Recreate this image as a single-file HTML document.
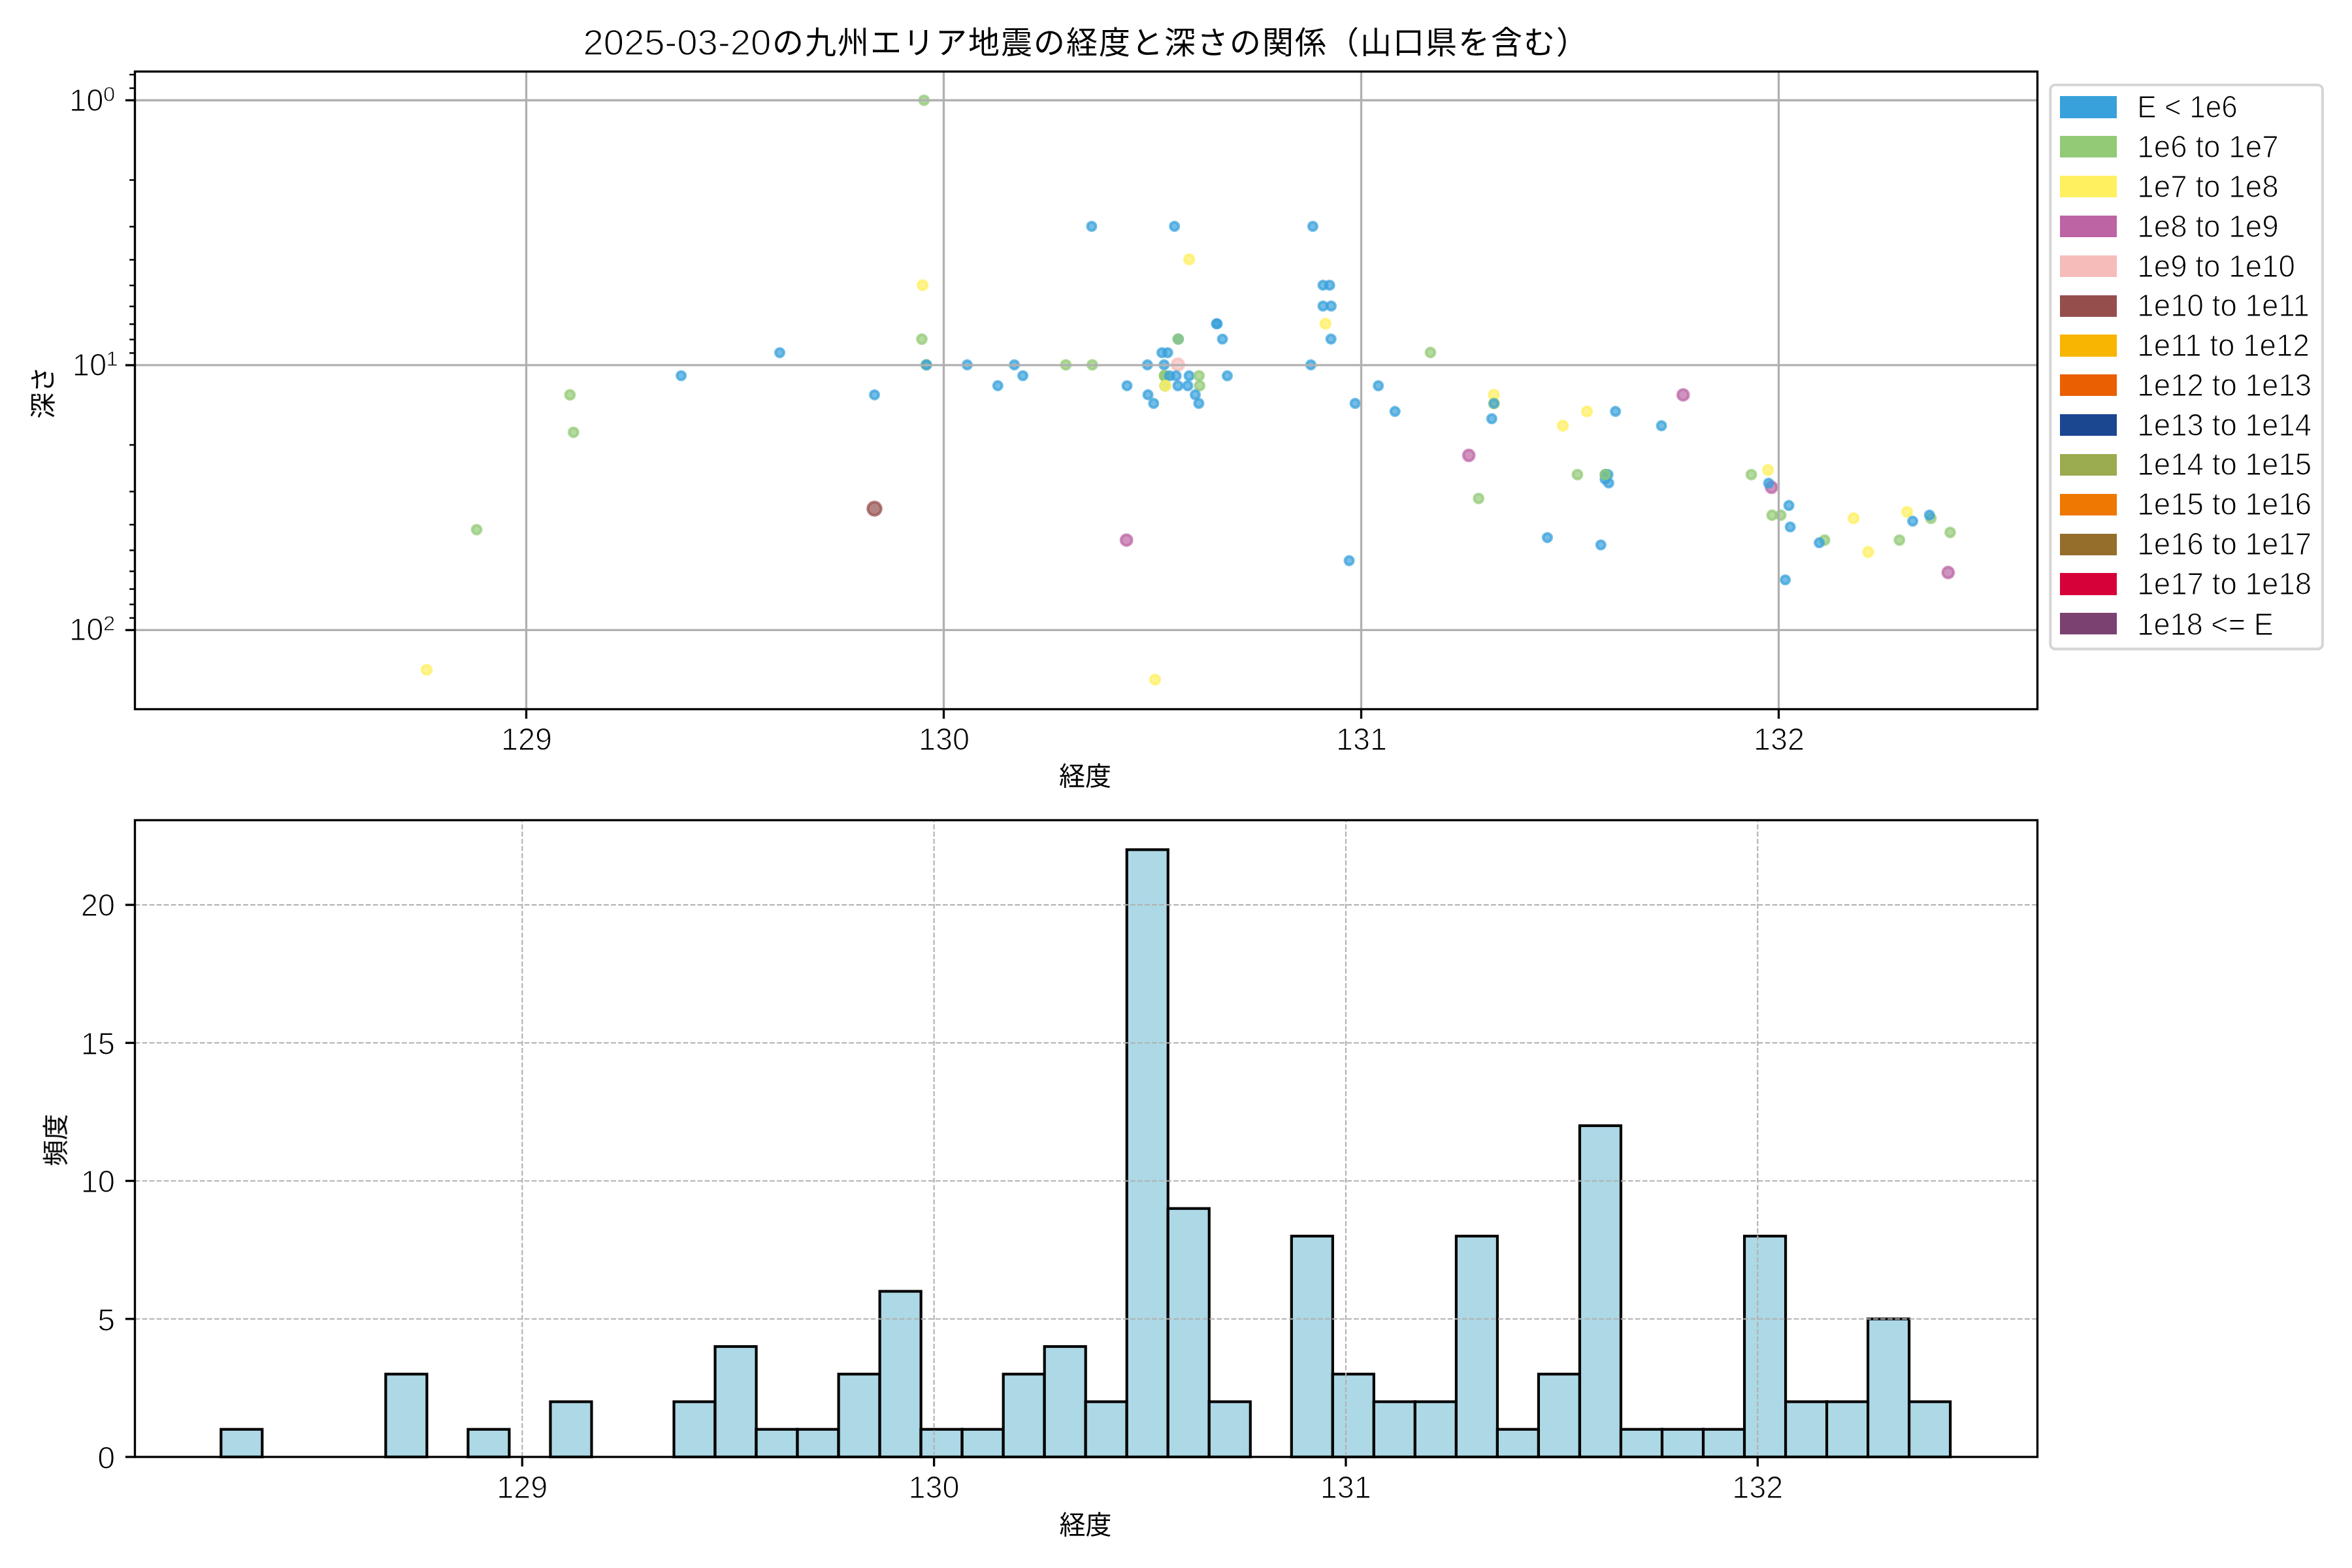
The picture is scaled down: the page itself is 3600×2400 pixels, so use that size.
<!DOCTYPE html>
<html lang="ja"><head><meta charset="utf-8"><title>2025-03-20の九州エリア地震の経度と深さの関係</title>
<style>html,body{margin:0;padding:0;background:#fff;}svg{display:block;}text{font-family:"Liberation Sans", "Noto Sans CJK JP", sans-serif;fill:#000;}</style></head><body>
<svg width="3600" height="2400" viewBox="0 0 3600 2400">
<rect x="0" y="0" width="3600" height="2400" fill="#ffffff"/>
<g id="ax1">
<g stroke-width="4.17" fill-opacity="0.7" stroke-opacity="0.7">
<circle cx="653.1" cy="1025.3" r="7.2" fill="#fff05f" stroke="#fff05f"/>
<circle cx="729.6" cy="810.7" r="6.9" fill="#93ca76" stroke="#93ca76"/>
<circle cx="872.4" cy="604.3" r="6.9" fill="#93ca76" stroke="#93ca76"/>
<circle cx="877.8" cy="661.7" r="6.9" fill="#93ca76" stroke="#93ca76"/>
<circle cx="1042.6" cy="575" r="6.5" fill="#38a1db" stroke="#38a1db"/>
<circle cx="1193.5" cy="539.8" r="6.5" fill="#38a1db" stroke="#38a1db"/>
<circle cx="1338.5" cy="604.3" r="6.5" fill="#38a1db" stroke="#38a1db"/>
<circle cx="1338.5" cy="778.6" r="10.2" fill="#954e4c" stroke="#954e4c"/>
<circle cx="1411" cy="519.1" r="6.9" fill="#93ca76" stroke="#93ca76"/>
<circle cx="1414.3" cy="153.4" r="6.9" fill="#93ca76" stroke="#93ca76"/>
<circle cx="1412.2" cy="436.5" r="7.2" fill="#fff05f" stroke="#fff05f"/>
<circle cx="1417.6" cy="558.4" r="6.9" fill="#93ca76" stroke="#93ca76"/>
<circle cx="1418.2" cy="558.4" r="6.5" fill="#38a1db" stroke="#38a1db"/>
<circle cx="1480.4" cy="558.4" r="6.5" fill="#38a1db" stroke="#38a1db"/>
<circle cx="1552.6" cy="558.4" r="6.5" fill="#38a1db" stroke="#38a1db"/>
<circle cx="1631.4" cy="558.4" r="6.9" fill="#93ca76" stroke="#93ca76"/>
<circle cx="1671.9" cy="558.4" r="6.9" fill="#93ca76" stroke="#93ca76"/>
<circle cx="1565.6" cy="575" r="6.5" fill="#38a1db" stroke="#38a1db"/>
<circle cx="1527.3" cy="590.3" r="6.5" fill="#38a1db" stroke="#38a1db"/>
<circle cx="1725" cy="590.3" r="6.5" fill="#38a1db" stroke="#38a1db"/>
<circle cx="1724.2" cy="826.7" r="8.4" fill="#bc64a4" stroke="#bc64a4"/>
<circle cx="1767.9" cy="1040.2" r="7.2" fill="#fff05f" stroke="#fff05f"/>
<circle cx="1670.9" cy="346.4" r="6.5" fill="#38a1db" stroke="#38a1db"/>
<circle cx="1797.7" cy="346.4" r="6.5" fill="#38a1db" stroke="#38a1db"/>
<circle cx="2009.4" cy="346.4" r="6.5" fill="#38a1db" stroke="#38a1db"/>
<circle cx="1820.2" cy="396.9" r="7.2" fill="#fff05f" stroke="#fff05f"/>
<circle cx="2025" cy="436.5" r="6.5" fill="#38a1db" stroke="#38a1db"/>
<circle cx="2035.2" cy="436.5" r="6.5" fill="#38a1db" stroke="#38a1db"/>
<circle cx="2025" cy="468.4" r="6.5" fill="#38a1db" stroke="#38a1db"/>
<circle cx="2037.5" cy="468.4" r="6.5" fill="#38a1db" stroke="#38a1db"/>
<circle cx="1861.9" cy="495.5" r="6.5" fill="#38a1db" stroke="#38a1db"/>
<circle cx="1863.1" cy="495.5" r="6.5" fill="#38a1db" stroke="#38a1db"/>
<circle cx="2028.8" cy="495.4" r="7.2" fill="#fff05f" stroke="#fff05f"/>
<circle cx="1803.6" cy="519" r="6.5" fill="#38a1db" stroke="#38a1db"/>
<circle cx="1803.2" cy="519" r="6.9" fill="#93ca76" stroke="#93ca76"/>
<circle cx="1871.1" cy="519" r="6.5" fill="#38a1db" stroke="#38a1db"/>
<circle cx="2037.2" cy="518.9" r="6.5" fill="#38a1db" stroke="#38a1db"/>
<circle cx="1778.5" cy="539.8" r="6.5" fill="#38a1db" stroke="#38a1db"/>
<circle cx="1787.2" cy="539.8" r="6.5" fill="#38a1db" stroke="#38a1db"/>
<circle cx="2189.5" cy="539.5" r="6.9" fill="#93ca76" stroke="#93ca76"/>
<circle cx="1756.3" cy="558.4" r="6.5" fill="#38a1db" stroke="#38a1db"/>
<circle cx="1781.8" cy="558.4" r="6.5" fill="#38a1db" stroke="#38a1db"/>
<circle cx="1803" cy="558" r="9" fill="#f5bcba" stroke="#f5bcba"/>
<circle cx="2006.4" cy="558.4" r="6.5" fill="#38a1db" stroke="#38a1db"/>
<circle cx="1782.7" cy="575.2" r="6.9" fill="#93ca76" stroke="#93ca76"/>
<circle cx="1782.7" cy="575.2" r="6.9" fill="#93ca76" stroke="#93ca76"/>
<circle cx="1782.7" cy="575.2" r="6.9" fill="#93ca76" stroke="#93ca76"/>
<circle cx="1790.2" cy="575.2" r="6.5" fill="#38a1db" stroke="#38a1db"/>
<circle cx="1800.2" cy="575.2" r="6.5" fill="#38a1db" stroke="#38a1db"/>
<circle cx="1820.1" cy="575.2" r="6.5" fill="#38a1db" stroke="#38a1db"/>
<circle cx="1835.2" cy="575.2" r="6.9" fill="#93ca76" stroke="#93ca76"/>
<circle cx="1878.5" cy="575.2" r="6.5" fill="#38a1db" stroke="#38a1db"/>
<circle cx="1783.2" cy="590.4" r="6.9" fill="#93ca76" stroke="#93ca76"/>
<circle cx="1783.9" cy="590.4" r="7.2" fill="#fff05f" stroke="#fff05f"/>
<circle cx="1803" cy="590.4" r="6.5" fill="#38a1db" stroke="#38a1db"/>
<circle cx="1818" cy="590.4" r="6.5" fill="#38a1db" stroke="#38a1db"/>
<circle cx="1836.1" cy="590.4" r="6.9" fill="#93ca76" stroke="#93ca76"/>
<circle cx="2109.7" cy="590.4" r="6.5" fill="#38a1db" stroke="#38a1db"/>
<circle cx="1757.1" cy="604.2" r="6.5" fill="#38a1db" stroke="#38a1db"/>
<circle cx="1829.5" cy="604.2" r="6.5" fill="#38a1db" stroke="#38a1db"/>
<circle cx="2286.5" cy="604.2" r="7.2" fill="#fff05f" stroke="#fff05f"/>
<circle cx="1765.8" cy="617.4" r="6.5" fill="#38a1db" stroke="#38a1db"/>
<circle cx="1834.9" cy="617.4" r="6.5" fill="#38a1db" stroke="#38a1db"/>
<circle cx="2074.2" cy="617.4" r="6.5" fill="#38a1db" stroke="#38a1db"/>
<circle cx="2286.7" cy="617.5" r="6.9" fill="#93ca76" stroke="#93ca76"/>
<circle cx="2286.7" cy="617.5" r="7.2" fill="#fff05f" stroke="#fff05f"/>
<circle cx="2286.7" cy="617.5" r="6.5" fill="#38a1db" stroke="#38a1db"/>
<circle cx="2135.2" cy="629.7" r="6.5" fill="#38a1db" stroke="#38a1db"/>
<circle cx="2429.1" cy="629.7" r="7.2" fill="#fff05f" stroke="#fff05f"/>
<circle cx="2472.7" cy="629.7" r="6.5" fill="#38a1db" stroke="#38a1db"/>
<circle cx="2283.3" cy="640.9" r="6.5" fill="#38a1db" stroke="#38a1db"/>
<circle cx="2392.1" cy="651.6" r="7.2" fill="#fff05f" stroke="#fff05f"/>
<circle cx="2543.1" cy="651.6" r="6.5" fill="#38a1db" stroke="#38a1db"/>
<circle cx="2576.3" cy="604.4" r="8.4" fill="#bc64a4" stroke="#bc64a4"/>
<circle cx="2248.2" cy="697" r="8.4" fill="#bc64a4" stroke="#bc64a4"/>
<circle cx="2263.2" cy="762.9" r="6.9" fill="#93ca76" stroke="#93ca76"/>
<circle cx="2065.1" cy="858.1" r="6.5" fill="#38a1db" stroke="#38a1db"/>
<circle cx="2414.4" cy="726.4" r="6.9" fill="#93ca76" stroke="#93ca76"/>
<circle cx="2457.6" cy="726.4" r="6.5" fill="#38a1db" stroke="#38a1db"/>
<circle cx="2457.6" cy="726.4" r="6.5" fill="#38a1db" stroke="#38a1db"/>
<circle cx="2461.2" cy="726.4" r="6.5" fill="#38a1db" stroke="#38a1db"/>
<circle cx="2456.9" cy="733.4" r="6.5" fill="#38a1db" stroke="#38a1db"/>
<circle cx="2462.3" cy="739.2" r="6.5" fill="#38a1db" stroke="#38a1db"/>
<circle cx="2457" cy="726.4" r="6.9" fill="#93ca76" stroke="#93ca76"/>
<circle cx="2680.6" cy="726.4" r="6.9" fill="#93ca76" stroke="#93ca76"/>
<circle cx="2706.1" cy="719.4" r="7.2" fill="#fff05f" stroke="#fff05f"/>
<circle cx="2711.5" cy="745.8" r="8.4" fill="#bc64a4" stroke="#bc64a4"/>
<circle cx="2707.1" cy="739.5" r="6.5" fill="#38a1db" stroke="#38a1db"/>
<circle cx="2738.1" cy="773.7" r="6.5" fill="#38a1db" stroke="#38a1db"/>
<circle cx="2712.3" cy="788.5" r="6.9" fill="#93ca76" stroke="#93ca76"/>
<circle cx="2725.6" cy="788.5" r="6.9" fill="#93ca76" stroke="#93ca76"/>
<circle cx="2740.2" cy="806.5" r="6.5" fill="#38a1db" stroke="#38a1db"/>
<circle cx="2837.1" cy="793.3" r="7.2" fill="#fff05f" stroke="#fff05f"/>
<circle cx="2792.7" cy="826.7" r="6.9" fill="#93ca76" stroke="#93ca76"/>
<circle cx="2784.6" cy="830.7" r="6.5" fill="#38a1db" stroke="#38a1db"/>
<circle cx="2859.5" cy="844.9" r="7.2" fill="#fff05f" stroke="#fff05f"/>
<circle cx="2907.3" cy="826.7" r="6.9" fill="#93ca76" stroke="#93ca76"/>
<circle cx="2919" cy="783.5" r="7.2" fill="#fff05f" stroke="#fff05f"/>
<circle cx="2927.6" cy="797.7" r="6.5" fill="#38a1db" stroke="#38a1db"/>
<circle cx="2955.5" cy="793.3" r="6.9" fill="#93ca76" stroke="#93ca76"/>
<circle cx="2953.2" cy="788.3" r="6.5" fill="#38a1db" stroke="#38a1db"/>
<circle cx="2985" cy="814.9" r="6.9" fill="#93ca76" stroke="#93ca76"/>
<circle cx="2981.9" cy="876.3" r="8.4" fill="#bc64a4" stroke="#bc64a4"/>
<circle cx="2732.6" cy="887.5" r="6.5" fill="#38a1db" stroke="#38a1db"/>
<circle cx="2368.4" cy="822.8" r="6.5" fill="#38a1db" stroke="#38a1db"/>
<circle cx="2450.3" cy="834" r="6.5" fill="#38a1db" stroke="#38a1db"/>
</g>
<g stroke="#b0b0b0" stroke-width="3.33" fill="none">
<line x1="805.5" y1="109.5" x2="805.5" y2="1085.5"/>
<line x1="1444.5" y1="109.5" x2="1444.5" y2="1085.5"/>
<line x1="2083.5" y1="109.5" x2="2083.5" y2="1085.5"/>
<line x1="2722.5" y1="109.5" x2="2722.5" y2="1085.5"/>
<line x1="206.5" y1="153.5" x2="3118.5" y2="153.5"/>
<line x1="206.5" y1="558.95" x2="3118.5" y2="558.95"/>
<line x1="206.5" y1="964.4" x2="3118.5" y2="964.4"/>
</g>
<g stroke="#000" stroke-width="3.33">
<line x1="805.5" y1="1085.5" x2="805.5" y2="1100.08"/>
<line x1="1444.5" y1="1085.5" x2="1444.5" y2="1100.08"/>
<line x1="2083.5" y1="1085.5" x2="2083.5" y2="1100.08"/>
<line x1="2722.5" y1="1085.5" x2="2722.5" y2="1100.08"/>
<line x1="191.92" y1="153.5" x2="206.5" y2="153.5"/>
<line x1="191.92" y1="558.95" x2="206.5" y2="558.95"/>
<line x1="191.92" y1="964.4" x2="206.5" y2="964.4"/>
</g>
<g stroke="#000" stroke-width="2.5">
<line x1="198.17" y1="114.21" x2="206.5" y2="114.21"/>
<line x1="198.17" y1="134.95" x2="206.5" y2="134.95"/>
<line x1="198.17" y1="275.55" x2="206.5" y2="275.55"/>
<line x1="198.17" y1="346.95" x2="206.5" y2="346.95"/>
<line x1="198.17" y1="397.61" x2="206.5" y2="397.61"/>
<line x1="198.17" y1="436.9" x2="206.5" y2="436.9"/>
<line x1="198.17" y1="469" x2="206.5" y2="469"/>
<line x1="198.17" y1="496.15" x2="206.5" y2="496.15"/>
<line x1="198.17" y1="519.66" x2="206.5" y2="519.66"/>
<line x1="198.17" y1="540.4" x2="206.5" y2="540.4"/>
<line x1="198.17" y1="681" x2="206.5" y2="681"/>
<line x1="198.17" y1="752.4" x2="206.5" y2="752.4"/>
<line x1="198.17" y1="803.06" x2="206.5" y2="803.06"/>
<line x1="198.17" y1="842.35" x2="206.5" y2="842.35"/>
<line x1="198.17" y1="874.45" x2="206.5" y2="874.45"/>
<line x1="198.17" y1="901.6" x2="206.5" y2="901.6"/>
<line x1="198.17" y1="925.11" x2="206.5" y2="925.11"/>
<line x1="198.17" y1="945.85" x2="206.5" y2="945.85"/>
</g>
<rect x="206.5" y="109.5" width="2912" height="976" fill="none" stroke="#000" stroke-width="3.33"/>
</g>
<g id="ax2">
<g fill="#add8e6" stroke="#000" stroke-width="4.17" stroke-linejoin="miter">
<rect x="338.3" y="2187.75" width="63.02" height="42.25"/>
<rect x="590.38" y="2103.25" width="63.02" height="126.75"/>
<rect x="716.42" y="2187.75" width="63.02" height="42.25"/>
<rect x="842.46" y="2145.5" width="63.02" height="84.5"/>
<rect x="1031.52" y="2145.5" width="63.02" height="84.5"/>
<rect x="1094.54" y="2061" width="63.02" height="169"/>
<rect x="1157.56" y="2187.75" width="63.02" height="42.25"/>
<rect x="1220.58" y="2187.75" width="63.02" height="42.25"/>
<rect x="1283.6" y="2103.25" width="63.02" height="126.75"/>
<rect x="1346.62" y="1976.5" width="63.02" height="253.5"/>
<rect x="1409.64" y="2187.75" width="63.02" height="42.25"/>
<rect x="1472.66" y="2187.75" width="63.02" height="42.25"/>
<rect x="1535.68" y="2103.25" width="63.02" height="126.75"/>
<rect x="1598.7" y="2061" width="63.02" height="169"/>
<rect x="1661.72" y="2145.5" width="63.02" height="84.5"/>
<rect x="1724.74" y="1300.5" width="63.02" height="929.5"/>
<rect x="1787.76" y="1849.75" width="63.02" height="380.25"/>
<rect x="1850.78" y="2145.5" width="63.02" height="84.5"/>
<rect x="1976.82" y="1892" width="63.02" height="338"/>
<rect x="2039.84" y="2103.25" width="63.02" height="126.75"/>
<rect x="2102.86" y="2145.5" width="63.02" height="84.5"/>
<rect x="2165.88" y="2145.5" width="63.02" height="84.5"/>
<rect x="2228.9" y="1892" width="63.02" height="338"/>
<rect x="2291.92" y="2187.75" width="63.02" height="42.25"/>
<rect x="2354.94" y="2103.25" width="63.02" height="126.75"/>
<rect x="2417.96" y="1723" width="63.02" height="507"/>
<rect x="2480.98" y="2187.75" width="63.02" height="42.25"/>
<rect x="2544" y="2187.75" width="63.02" height="42.25"/>
<rect x="2607.02" y="2187.75" width="63.02" height="42.25"/>
<rect x="2670.04" y="1892" width="63.02" height="338"/>
<rect x="2733.06" y="2145.5" width="63.02" height="84.5"/>
<rect x="2796.08" y="2145.5" width="63.02" height="84.5"/>
<rect x="2859.1" y="2018.75" width="63.02" height="211.25"/>
<rect x="2922.12" y="2145.5" width="63.02" height="84.5"/>
</g>
<g stroke="#b0b0b0" stroke-width="2.08" stroke-dasharray="7.71 3.33" fill="none">
<line x1="799.3" y1="2230" x2="799.3" y2="1255.4"/>
<line x1="1429.63" y1="2230" x2="1429.63" y2="1255.4"/>
<line x1="2059.96" y1="2230" x2="2059.96" y2="1255.4"/>
<line x1="2690.29" y1="2230" x2="2690.29" y2="1255.4"/>
<line x1="206.5" y1="2230" x2="3118.5" y2="2230"/>
<line x1="206.5" y1="2018.75" x2="3118.5" y2="2018.75"/>
<line x1="206.5" y1="1807.5" x2="3118.5" y2="1807.5"/>
<line x1="206.5" y1="1596.25" x2="3118.5" y2="1596.25"/>
<line x1="206.5" y1="1385" x2="3118.5" y2="1385"/>
</g>
<g stroke="#000" stroke-width="3.33">
<line x1="799.3" y1="2230" x2="799.3" y2="2244.58"/>
<line x1="1429.63" y1="2230" x2="1429.63" y2="2244.58"/>
<line x1="2059.96" y1="2230" x2="2059.96" y2="2244.58"/>
<line x1="2690.29" y1="2230" x2="2690.29" y2="2244.58"/>
<line x1="191.92" y1="2230" x2="206.5" y2="2230"/>
<line x1="191.92" y1="2018.75" x2="206.5" y2="2018.75"/>
<line x1="191.92" y1="1807.5" x2="206.5" y2="1807.5"/>
<line x1="191.92" y1="1596.25" x2="206.5" y2="1596.25"/>
<line x1="191.92" y1="1385" x2="206.5" y2="1385"/>
</g>
<rect x="206.5" y="1255.4" width="2912" height="974.6" fill="none" stroke="#000" stroke-width="3.33"/>
</g>
<g id="labels" opacity="0.999">
<text id="title"><tspan x="892.5" y="83.5" font-size="55.61" text-anchor="start" textLength="287.7" lengthAdjust="spacingAndGlyphs" stroke="#fff" stroke-width="1.4">2025-03-20</tspan><tspan x="1182" y="82.1" font-size="48" text-anchor="start" letter-spacing="2">の九州エリア地震の経度と深さの関係（山口県を含む）</tspan></text>
<text x="806" y="1148.2" font-size="47.73" text-anchor="middle" textLength="78.05" lengthAdjust="spacingAndGlyphs" stroke="#fff" stroke-width="1.2">129</text>
<text x="1445" y="1148.2" font-size="47.73" text-anchor="middle" textLength="78.05" lengthAdjust="spacingAndGlyphs" stroke="#fff" stroke-width="1.2">130</text>
<text x="2084" y="1148.2" font-size="47.73" text-anchor="middle" textLength="78.05" lengthAdjust="spacingAndGlyphs" stroke="#fff" stroke-width="1.2">131</text>
<text x="2723" y="1148.2" font-size="47.73" text-anchor="middle" textLength="78.05" lengthAdjust="spacingAndGlyphs" stroke="#fff" stroke-width="1.2">132</text>
<text><tspan x="105.9" y="169.6" font-size="47.73" text-anchor="start" textLength="52.47" lengthAdjust="spacingAndGlyphs" stroke="#fff" stroke-width="1.2">10</tspan><tspan x="158" y="154.5" font-size="31.54" text-anchor="start" textLength="18.21" lengthAdjust="spacingAndGlyphs" stroke="#fff" stroke-width="0.79">0</tspan></text>
<text><tspan x="110.8" y="574.95" font-size="47.73" text-anchor="start" textLength="52.47" lengthAdjust="spacingAndGlyphs" stroke="#fff" stroke-width="1.2">10</tspan><tspan x="162.5" y="559.85" font-size="31.54" text-anchor="start" textLength="18.21" lengthAdjust="spacingAndGlyphs" stroke="#fff" stroke-width="0.79">1</tspan></text>
<text><tspan x="105.9" y="980.2" font-size="47.73" text-anchor="start" textLength="52.47" lengthAdjust="spacingAndGlyphs" stroke="#fff" stroke-width="1.2">10</tspan><tspan x="158" y="965.1" font-size="31.54" text-anchor="start" textLength="18.21" lengthAdjust="spacingAndGlyphs" stroke="#fff" stroke-width="0.79">2</tspan></text>
<text x="1661" y="1201.7" font-size="40" text-anchor="middle">経度</text>
<text transform="translate(80.0 600.9) rotate(-90)" font-size="40" text-anchor="middle">深さ</text>
<text x="799.2" y="2292.8" font-size="47.73" text-anchor="middle" textLength="78.05" lengthAdjust="spacingAndGlyphs" stroke="#fff" stroke-width="1.2">129</text>
<text x="1429.53" y="2292.8" font-size="47.73" text-anchor="middle" textLength="78.05" lengthAdjust="spacingAndGlyphs" stroke="#fff" stroke-width="1.2">130</text>
<text x="2059.86" y="2292.8" font-size="47.73" text-anchor="middle" textLength="78.05" lengthAdjust="spacingAndGlyphs" stroke="#fff" stroke-width="1.2">131</text>
<text x="2690.19" y="2292.8" font-size="47.73" text-anchor="middle" textLength="78.05" lengthAdjust="spacingAndGlyphs" stroke="#fff" stroke-width="1.2">132</text>
<text x="176.1" y="2247.5" font-size="47.73" text-anchor="end" textLength="26.88" lengthAdjust="spacingAndGlyphs" stroke="#fff" stroke-width="1.2">0</text>
<text x="176.1" y="2037.45" font-size="47.73" text-anchor="end" textLength="26.88" lengthAdjust="spacingAndGlyphs" stroke="#fff" stroke-width="1.2">5</text>
<text x="176.1" y="1825" font-size="47.73" text-anchor="end" textLength="52.47" lengthAdjust="spacingAndGlyphs" stroke="#fff" stroke-width="1.2">10</text>
<text x="176.1" y="1614.25" font-size="47.73" text-anchor="end" textLength="52.47" lengthAdjust="spacingAndGlyphs" stroke="#fff" stroke-width="1.2">15</text>
<text x="176.1" y="1402.2" font-size="47.73" text-anchor="end" textLength="52.47" lengthAdjust="spacingAndGlyphs" stroke="#fff" stroke-width="1.2">20</text>
<text x="1661.5" y="2348" font-size="40" text-anchor="middle">経度</text>
<text transform="translate(99.2 1744.9) rotate(-90)" font-size="40" text-anchor="middle">頻度</text>
<rect x="3138.3" y="130" width="416.6" height="863.4" rx="7.2" ry="7.2" fill="#ffffff" fill-opacity="0.8" stroke="#cccccc" stroke-opacity="0.8" stroke-width="4.17"/>
<rect x="3153" y="147" width="87" height="34" fill="#38a1db"/>
<text x="3271.3" y="179.8" font-size="47.73" text-anchor="start" textLength="153.6" lengthAdjust="spacingAndGlyphs" stroke="#fff" stroke-width="1.2">E &lt; 1e6</text>
<rect x="3153" y="208" width="87" height="33" fill="#93ca76"/>
<text x="3271.3" y="240.99" font-size="47.21" text-anchor="start" textLength="216.37" lengthAdjust="spacingAndGlyphs" stroke="#fff" stroke-width="1.19">1e6 to 1e7</text>
<rect x="3153" y="269" width="87" height="33" fill="#fff05f"/>
<text x="3271.3" y="301.99" font-size="47.21" text-anchor="start" textLength="216.37" lengthAdjust="spacingAndGlyphs" stroke="#fff" stroke-width="1.19">1e7 to 1e8</text>
<rect x="3153" y="330" width="87" height="33" fill="#bc64a4"/>
<text x="3271.3" y="362.99" font-size="47.21" text-anchor="start" textLength="216.37" lengthAdjust="spacingAndGlyphs" stroke="#fff" stroke-width="1.19">1e8 to 1e9</text>
<rect x="3153" y="391" width="87" height="33" fill="#f5bcba"/>
<text x="3271.3" y="423.79" font-size="47.21" text-anchor="start" textLength="241.67" lengthAdjust="spacingAndGlyphs" stroke="#fff" stroke-width="1.19">1e9 to 1e10</text>
<rect x="3153" y="452" width="87" height="33" fill="#954e4c"/>
<text x="3271.3" y="484.39" font-size="47.21" text-anchor="start" textLength="263.6" lengthAdjust="spacingAndGlyphs" stroke="#fff" stroke-width="1.19">1e10 to 1e11</text>
<rect x="3153" y="512" width="87" height="34" fill="#f8b500"/>
<text x="3271.3" y="545.19" font-size="47.21" text-anchor="start" textLength="263.6" lengthAdjust="spacingAndGlyphs" stroke="#fff" stroke-width="1.19">1e11 to 1e12</text>
<rect x="3153" y="573" width="87" height="33" fill="#ea5f00"/>
<text x="3271.3" y="606.19" font-size="47.21" text-anchor="start" textLength="266.98" lengthAdjust="spacingAndGlyphs" stroke="#fff" stroke-width="1.19">1e12 to 1e13</text>
<rect x="3153" y="634" width="87" height="33" fill="#1b4690"/>
<text x="3271.3" y="666.79" font-size="47.21" text-anchor="start" textLength="266.98" lengthAdjust="spacingAndGlyphs" stroke="#fff" stroke-width="1.19">1e13 to 1e14</text>
<rect x="3153" y="695" width="87" height="33" fill="#9bab4f"/>
<text x="3271.3" y="727.39" font-size="47.21" text-anchor="start" textLength="266.98" lengthAdjust="spacingAndGlyphs" stroke="#fff" stroke-width="1.19">1e14 to 1e15</text>
<rect x="3153" y="756" width="87" height="33" fill="#ee7800"/>
<text x="3271.3" y="788.29" font-size="47.21" text-anchor="start" textLength="266.98" lengthAdjust="spacingAndGlyphs" stroke="#fff" stroke-width="1.19">1e15 to 1e16</text>
<rect x="3153" y="817" width="87" height="33" fill="#946e2a"/>
<text x="3271.3" y="848.79" font-size="47.21" text-anchor="start" textLength="266.98" lengthAdjust="spacingAndGlyphs" stroke="#fff" stroke-width="1.19">1e16 to 1e17</text>
<rect x="3153" y="877" width="87" height="34" fill="#d7003a"/>
<text x="3271.3" y="910.49" font-size="47.21" text-anchor="start" textLength="266.98" lengthAdjust="spacingAndGlyphs" stroke="#fff" stroke-width="1.19">1e17 to 1e18</text>
<rect x="3153" y="938" width="87" height="33" fill="#7b4171"/>
<text x="3271.3" y="971.5" font-size="47.73" text-anchor="start" textLength="208.5" lengthAdjust="spacingAndGlyphs" stroke="#fff" stroke-width="1.2">1e18 &lt;= E</text>
</g>
</svg></body></html>
